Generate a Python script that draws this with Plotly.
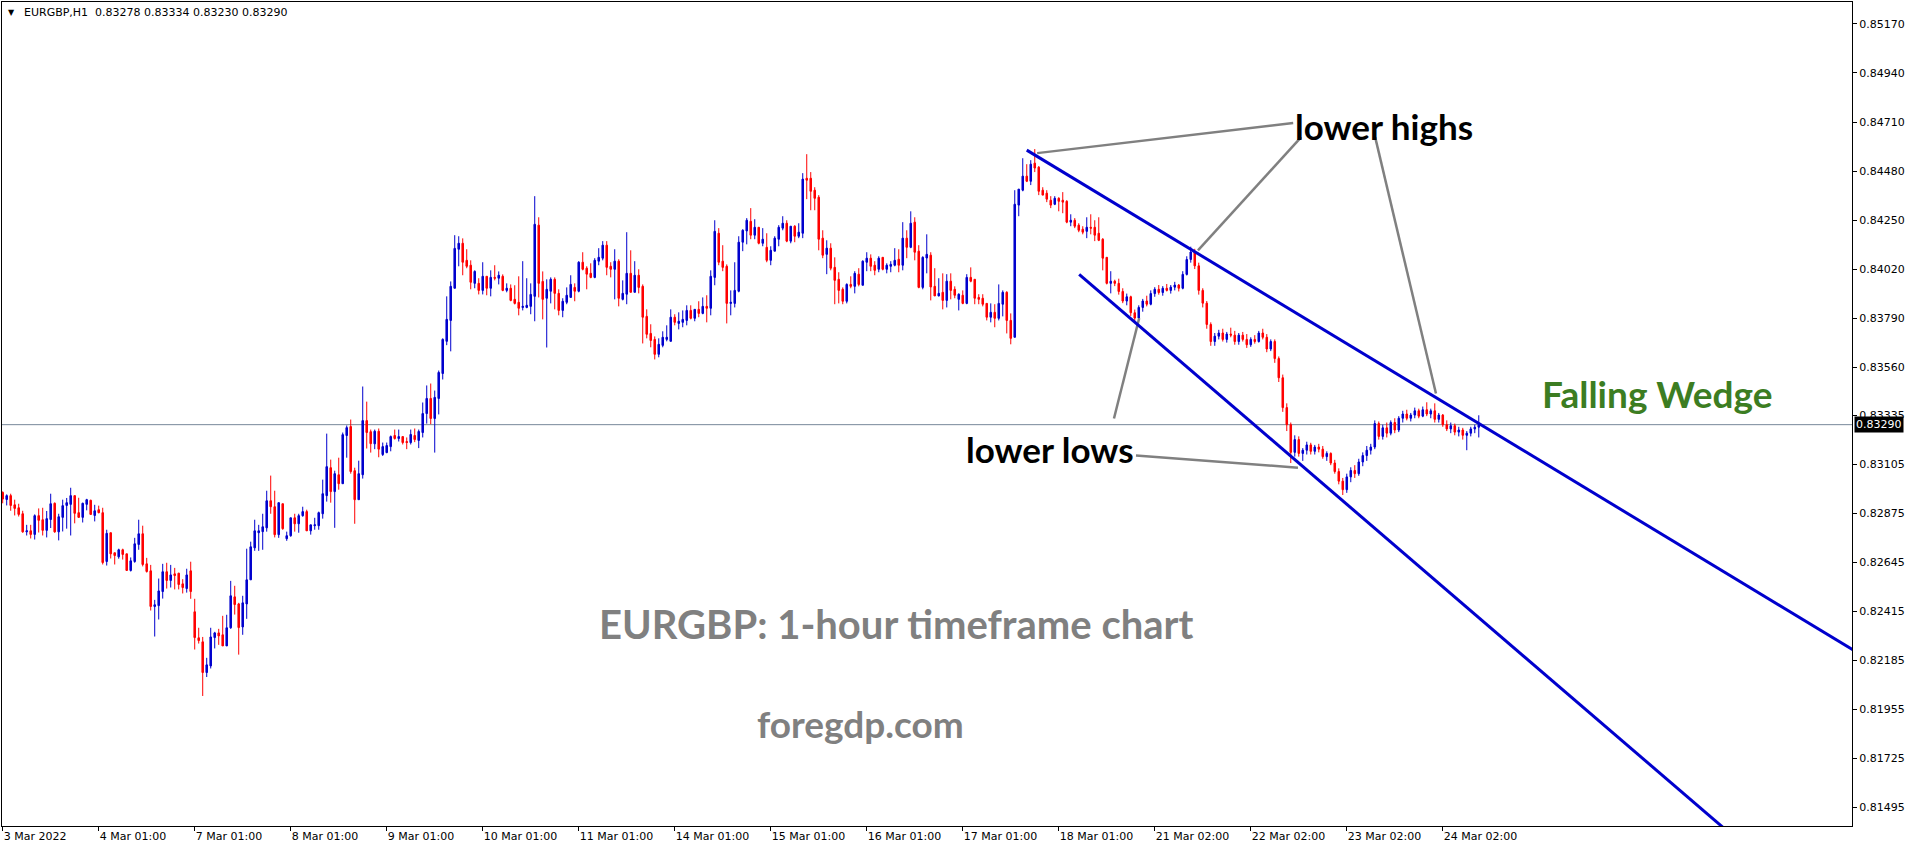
import plotly.graph_objects as go

# ---------------- data (prices in points, 1 point = 0.00001) ----------------
open_pts = [
82972,82939,82957,82914,82900,82872,82787,82792,82775,82863,82844,82794,82845,82921,82787,82855,82911,82916,82957,82877,
82855,82916,82935,82864,82891,82877,82648,82783,82689,82670,82703,82684,82606,82648,82728,82778,82637,82604,82437,82441,
82507,82600,82559,82590,82593,82543,82521,82604,82412,82290,82271,82127,82158,82291,82313,82304,82252,82337,82482,82449,
82341,82449,82562,82712,82783,82788,82806,82933,82905,82774,82919,82755,82769,82853,82825,82863,82882,82792,82816,82816,
82872,82957,83088,82976,83055,83013,83239,83281,83074,82938,83055,83309,83257,83200,83259,83150,83159,83187,83239,83225,
83234,83211,83206,83239,83216,83253,83342,83413,83319,83413,83530,83681,83779,83930,84113,84141,84061,84038,83953,83953,
83920,83986,83930,83981,83977,83986,83920,83930,83878,83864,83840,83840,83845,83892,84226,83962,83883,83916,83972,83906,
83826,83864,83887,83934,83916,84052,84024,84000,83981,84057,84071,84132,84033,84019,84057,83878,83902,84000,83911,83991,
83939,83798,83718,83690,83620,83662,83690,83681,83794,83765,83770,83779,83826,83789,83831,83812,83845,83836,83981,84188,
84057,84033,83859,83859,83916,84146,84199,84244,84179,84216,84141,84122,84061,84104,84160,84212,84235,84151,84221,84174,
84188,84446,84446,84390,84357,84165,84089,84118,84028,83972,83925,83869,83948,83939,83996,83944,84052,84071,84038,84019,
84075,84019,84033,84038,84066,84038,84165,84122,84240,84104,83934,84072,84085,83939,83894,83911,83873,83963,83925,83878,
83897,83859,83981,83972,83887,83883,83859,83794,83817,83789,83855,83911,83779,83700,84320,84390,84456,84432,84517,84498,
84390,84376,84343,84324,84352,84343,84338,84240,84249,84226,84207,84197,84216,84216,84188,84160,84075,83953,83963,83953,
83915,83870,83890,83815,83790,83840,83870,83855,83905,83925,83910,83930,83920,83935,83945,83930,83995,84065,84100,84035,
83920,83860,83760,83680,83705,83720,83690,83715,83710,83680,83710,83690,83665,83690,83680,83720,83700,83645,83680,83600,
83510,83370,83290,83160,83220,83155,83170,83195,83165,83185,83175,83140,83155,83110,83070,83025,82985,83045,83075,83060,
83115,83145,83170,83185,83295,83235,83275,83250,83300,83265,83320,83340,83320,83335,83355,83330,83360,83340,83355,83315,
83335,83290,83270,83285,83255,83265,83240,83250,83270,83278,
]
high_pts = [
82977,82963,82966,82938,82919,82886,82820,82820,82869,82897,82900,82885,82966,82925,82872,82938,82946,82994,82957,82947,
82924,82942,82938,82914,82910,82900,82797,82783,82689,82708,82708,82684,82667,82759,82844,82816,82665,82632,82468,82568,
82637,82642,82632,82618,82595,82565,82614,82647,82473,82337,82294,82196,82337,82318,82332,82393,82398,82557,82534,82454,
82487,82708,82741,82844,82820,82872,82980,83051,82980,82924,82919,82788,82853,82872,82872,82905,82891,82820,82853,82882,
83032,83248,83126,83074,83135,83253,83286,83314,83088,83121,83469,83398,83267,83267,83272,83206,83206,83239,83267,83267,
83234,83230,83267,83272,83267,83394,83474,83483,83450,83544,83695,83892,83962,84179,84174,84164,84113,84061,84014,83977,
84052,83986,84014,84038,84009,83995,83953,83948,83944,83986,84057,83977,83953,84362,84263,84009,83972,83981,83981,83925,
83883,83934,83991,83953,84057,84099,84033,84047,84071,84118,84151,84151,84052,84113,84066,83967,84193,84108,84057,84019,
83948,83831,83761,83704,83695,83728,83756,83831,83808,83817,83826,83850,83850,83831,83869,83887,83897,84014,84249,84212,
84132,84042,83920,84052,84174,84207,84259,84306,84254,84216,84212,84188,84127,84174,84226,84268,84249,84221,84226,84235,
84470,84559,84475,84404,84367,84202,84155,84141,84075,84005,83934,83953,83986,84010,84024,84061,84099,84089,84057,84080,
84075,84047,84057,84118,84113,84240,84202,84291,84263,84132,84080,84183,84099,84024,83977,84000,83996,84000,83939,83906,
83920,83996,84028,83972,83902,83902,83859,83859,83855,83948,83920,83916,83812,84390,84395,84540,84512,84531,84583,84503,
84404,84390,84362,84362,84357,84381,84343,84277,84259,84235,84221,84263,84277,84249,84263,84165,84075,84010,83970,83975,
83930,83905,83895,83830,83850,83880,83895,83920,83935,83945,83940,83950,83945,83960,83950,84010,84080,84125,84115,84050,
83930,83870,83770,83720,83735,83740,83725,83745,83730,83720,83725,83715,83700,83710,83730,83740,83715,83690,83690,83610,
83525,83390,83300,83240,83235,83180,83210,83205,83195,83200,83190,83165,83160,83125,83085,83040,83060,83090,83100,83130,
83160,83190,83200,83310,83305,83290,83300,83310,83320,83330,83355,83360,83345,83370,83365,83375,83395,83365,83390,83345,
83340,83310,83300,83295,83280,83275,83260,83280,83290,83334,
]
low_pts = [
82921,82911,82886,82864,82859,82783,82770,82756,82751,82784,82770,82761,82805,82783,82747,82789,82802,82770,82827,82852,
82831,82888,82866,82836,82874,82634,82629,82662,82634,82661,82657,82606,82601,82642,82703,82625,82596,82418,82296,82376,
82474,82521,82526,82517,82517,82498,82502,82473,82235,82263,82017,82106,82146,82240,82257,82252,82252,82332,82399,82211,
82304,82379,82562,82698,82698,82703,82788,82872,82761,82759,82797,82745,82764,82788,82783,82858,82792,82774,82797,82797,
82849,82929,82924,82806,82985,83013,83135,83060,82825,82938,83037,83178,83159,83175,83137,83143,83156,83165,83220,83211,
83197,83175,83197,83208,83180,83230,83295,83292,83159,83338,83502,83663,83634,83930,84033,83991,84024,83925,83930,83901,
83901,83897,83892,83967,83948,83916,83911,83869,83854,83803,83826,83836,83808,83775,83887,83784,83652,83859,83831,83803,
83794,83855,83887,83869,83911,84014,83925,83977,83977,84038,84061,83991,83981,83878,83845,83873,83855,83911,83911,83906,
83671,83695,83653,83596,83606,83653,83681,83681,83756,83737,83747,83756,83784,83775,83794,83808,83770,83803,83944,84038,
84010,83765,83803,83840,83911,84104,84136,84160,84160,84136,84127,84052,84038,84104,84127,84202,84146,84141,84146,84165,
84165,84348,84296,84296,84108,84071,83996,84014,83855,83859,83855,83859,83930,83906,83939,83944,84010,84010,83991,84005,
84014,84000,84005,84033,84005,84014,84071,84118,84061,83930,83925,84000,83873,83894,83892,83831,83840,83878,83883,83826,
83855,83855,83958,83855,83855,83845,83779,83770,83747,83779,83798,83718,83667,83700,84268,84385,84428,84414,84475,84367,
84367,84334,84306,84320,84291,84282,84235,84221,84212,84193,84183,84165,84183,84151,84151,84014,83948,83906,83940,83900,
83860,83850,83800,83770,83780,83820,83845,83850,83890,83900,83895,83915,83905,83920,83915,83925,83990,84050,84020,83900,
83840,83740,83660,83660,83690,83680,83675,83700,83665,83665,83680,83650,83655,83670,83675,83690,83630,83635,83580,83490,
83350,83260,83110,83140,83140,83120,83150,83150,83150,83160,83130,83120,83100,83060,83010,82960,82970,83020,83040,83050,
83095,83120,83150,83175,83220,83220,83230,83240,83250,83255,83300,83310,83305,83320,83320,83325,83330,83320,83300,83300,
83280,83260,83250,83240,83235,83220,83170,83235,83250,83230,
]
close_pts = [
82941,82957,82911,82897,82869,82787,82792,82775,82863,82841,82794,82849,82919,82787,82858,82910,82924,82957,82874,82855,
82921,82938,82869,82886,82877,82643,82780,82684,82676,82703,82681,82606,82651,82731,82778,82634,82601,82437,82445,82510,
82600,82559,82585,82582,82540,82526,82585,82507,82291,82277,82127,82163,82294,82313,82299,82252,82337,82487,82446,82338,
82454,82562,82717,82792,82792,82811,82933,82905,82774,82924,82802,82769,82853,82825,82863,82882,82792,82820,82820,82877,
82966,83093,82976,83060,83013,83243,83276,83070,82938,83060,83309,83253,83201,83259,83175,83187,83192,83234,83225,83234,
83206,83206,83244,83220,83258,83342,83413,83319,83418,83535,83690,83784,83939,84117,84141,84052,84033,83958,84009,83920,
83986,83930,83981,83977,83991,83920,83930,83873,83859,83836,83845,83850,83901,84230,83953,83878,83925,83972,83906,83826,
83869,83897,83948,83916,84052,84019,83996,83981,84061,84075,84132,84028,84019,84057,83883,83906,84000,83911,83991,83934,
83794,83714,83685,83620,83667,83700,83700,83794,83770,83775,83784,83826,83789,83831,83812,83845,83836,83986,84197,84052,
84028,83859,83864,83920,84146,84202,84249,84179,84216,84141,84160,84061,84108,84165,84216,84235,84151,84221,84174,84193,
84442,84437,84385,84352,84160,84085,84118,84024,83967,83920,83869,83948,83939,84000,83948,84057,84071,84033,84014,84071,
84019,84038,84042,84061,84038,84165,84122,84235,84099,83934,84075,84089,83936,83894,83906,83873,83963,83920,83897,83902,
83859,83981,83963,83883,83878,83855,83794,83817,83789,83859,83911,83779,83695,84324,84395,84456,84432,84512,84494,84385,
84367,84348,84320,84352,84338,84334,84240,84249,84221,84202,84193,84216,84212,84179,84155,84071,83953,83963,83953,83915,
83870,83890,83815,83790,83840,83870,83855,83905,83925,83910,83930,83920,83935,83945,83930,83995,84065,84100,84035,83920,
83860,83760,83680,83705,83720,83690,83715,83710,83680,83710,83690,83665,83690,83680,83720,83700,83645,83680,83600,83510,
83370,83290,83160,83220,83155,83170,83195,83165,83185,83175,83140,83155,83110,83070,83025,82985,83045,83075,83060,83115,
83145,83170,83185,83295,83235,83275,83250,83300,83265,83320,83340,83320,83335,83355,83330,83360,83340,83355,83315,83335,
83290,83270,83285,83255,83265,83240,83250,83270,83278,83290,
]

tick_bars = [0, 24, 48, 72, 96, 120, 144, 168, 192, 216, 240, 264, 288, 312, 336, 360]
tick_labels = ["3 Mar 2022", "4 Mar 01:00", "7 Mar 01:00", "8 Mar 01:00", "9 Mar 01:00",
               "10 Mar 01:00", "11 Mar 01:00", "14 Mar 01:00", "15 Mar 01:00", "16 Mar 01:00",
               "17 Mar 01:00", "18 Mar 01:00", "21 Mar 02:00", "22 Mar 02:00", "23 Mar 02:00",
               "24 Mar 02:00"]
price_ticks = [0.85170, 0.84940, 0.84710, 0.84480, 0.84250, 0.84020, 0.83790, 0.83560, 0.83335,
               0.83105, 0.82875, 0.82645, 0.82415, 0.82185, 0.81955, 0.81725, 0.81495]

last_price = 0.83290
header = "EURGBP,H1  0.83278 0.83334 0.83230 0.83290"

# wedge trend lines (bar index, price)
upper_x = [256.0, 470.0]
upper_y = [0.84578, 0.82149]
lower_x = [269.1, 440.0]
lower_y = [0.83995, 0.81240]

# pointer lines for the labels (bar index, price)
pointer_lines = [
    ([258.6, 322.6], [0.84564, 0.84705]),
    ([324.6, 298.8], [0.84639, 0.84108]),
    ([343.1, 358.3], [0.84639, 0.83436]),
    ([283.3, 323.8], [0.83145, 0.83088]),
    ([277.8, 284.1], [0.83319, 0.83789]),
]

opens = [v / 1e5 for v in open_pts]
highs = [v / 1e5 for v in high_pts]
lows = [v / 1e5 for v in low_pts]
closes = [v / 1e5 for v in close_pts]
bars = list(range(len(opens)))

BLUE = "#0000CD"
RED = "#FF0000"

fig = go.Figure()
fig.add_trace(go.Candlestick(
    x=bars, open=opens, high=highs, low=lows, close=closes,
    increasing=dict(line=dict(color=BLUE, width=1), fillcolor=BLUE),
    decreasing=dict(line=dict(color=RED, width=1), fillcolor=RED),
    whiskerwidth=0, hoverinfo="skip", showlegend=False,
))

for px, py in pointer_lines:
    fig.add_trace(go.Scatter(x=px, y=py, mode="lines", line=dict(color="#808080", width=2.5),
                             hoverinfo="skip", showlegend=False))

fig.add_trace(go.Scatter(x=upper_x, y=upper_y, mode="lines", line=dict(color=BLUE, width=3),
                         hoverinfo="skip", showlegend=False))
fig.add_trace(go.Scatter(x=lower_x, y=lower_y, mode="lines", line=dict(color=BLUE, width=3),
                         hoverinfo="skip", showlegend=False))

fig.add_shape(type="line", xref="paper", x0=0, x1=1, yref="y", y0=last_price, y1=last_price,
              line=dict(color="#778899", width=1), layer="below")

TICKFONT = dict(family="DejaVu Sans", size=11, color="black")


def label(text, x, y, size, color):
    return dict(text=f"<b>{text}</b>", xref="paper", yref="paper", x=x, y=y,
                xanchor="center", yanchor="middle", showarrow=False,
                font=dict(family="Lato", size=size, color=color))


annotations = [
    dict(text=header, xref="paper", yref="paper", x=0.01065, y=0.9870, xanchor="left",
         yanchor="middle", showarrow=False, font=TICKFONT),
    dict(text="\u25BC", xref="paper", yref="paper", x=0.0049, y=0.9875, xanchor="center",
         yanchor="middle", showarrow=False, font=dict(family="DejaVu Sans", size=8, color="black")),
    label("Falling Wedge", 0.8946, 0.5243, 37, "#3C7D22"),
    label("lower highs", 0.7470, 0.8490, 35, "black"),
    label("lower lows", 0.5665, 0.4575, 35, "black"),
    label("EURGBP: 1-hour timeframe chart", 0.4832, 0.2451, 40, "#808080"),
    label("foregdp.com", 0.4643, 0.1250, 37, "#808080"),
    dict(text=f"{last_price:.5f}", xref="paper", yref="y", x=1, y=last_price, xanchor="left",
         yanchor="middle", xshift=2, showarrow=False, bgcolor="black", borderpad=1,
         font=dict(family="DejaVu Sans", size=11, color="white")),
]

fig.update_layout(
    width=1916, height=850,
    margin=dict(l=2, r=64, t=2, b=24),
    paper_bgcolor="white", plot_bgcolor="white",
    boxgap=0.45,
    showlegend=False,
    annotations=annotations,
    xaxis=dict(
        range=[-0.175, 462.3], rangeslider=dict(visible=False), showgrid=False, zeroline=False,
        showline=True, linecolor="black", linewidth=1, mirror=True,
        tickmode="array", tickvals=tick_bars, ticktext=tick_labels,
        ticks="outside", ticklen=4, tickcolor="black", ticklabelposition="outside right",
        tickfont=TICKFONT, fixedrange=True,
    ),
    yaxis=dict(
        range=[0.81407, 0.85273], side="right", showgrid=False, zeroline=False,
        showline=True, linecolor="black", linewidth=1, mirror=True,
        tickmode="array", tickvals=price_ticks, ticktext=[f"{v:.5f}" for v in price_ticks],
        ticks="outside", ticklen=4, tickcolor="black", tickfont=TICKFONT, fixedrange=True,
    ),
)

fig.write_html("out.html", config={"displayModeBar": False},
               post_script="document.body.style.margin='0';document.body.style.overflow='hidden';")
